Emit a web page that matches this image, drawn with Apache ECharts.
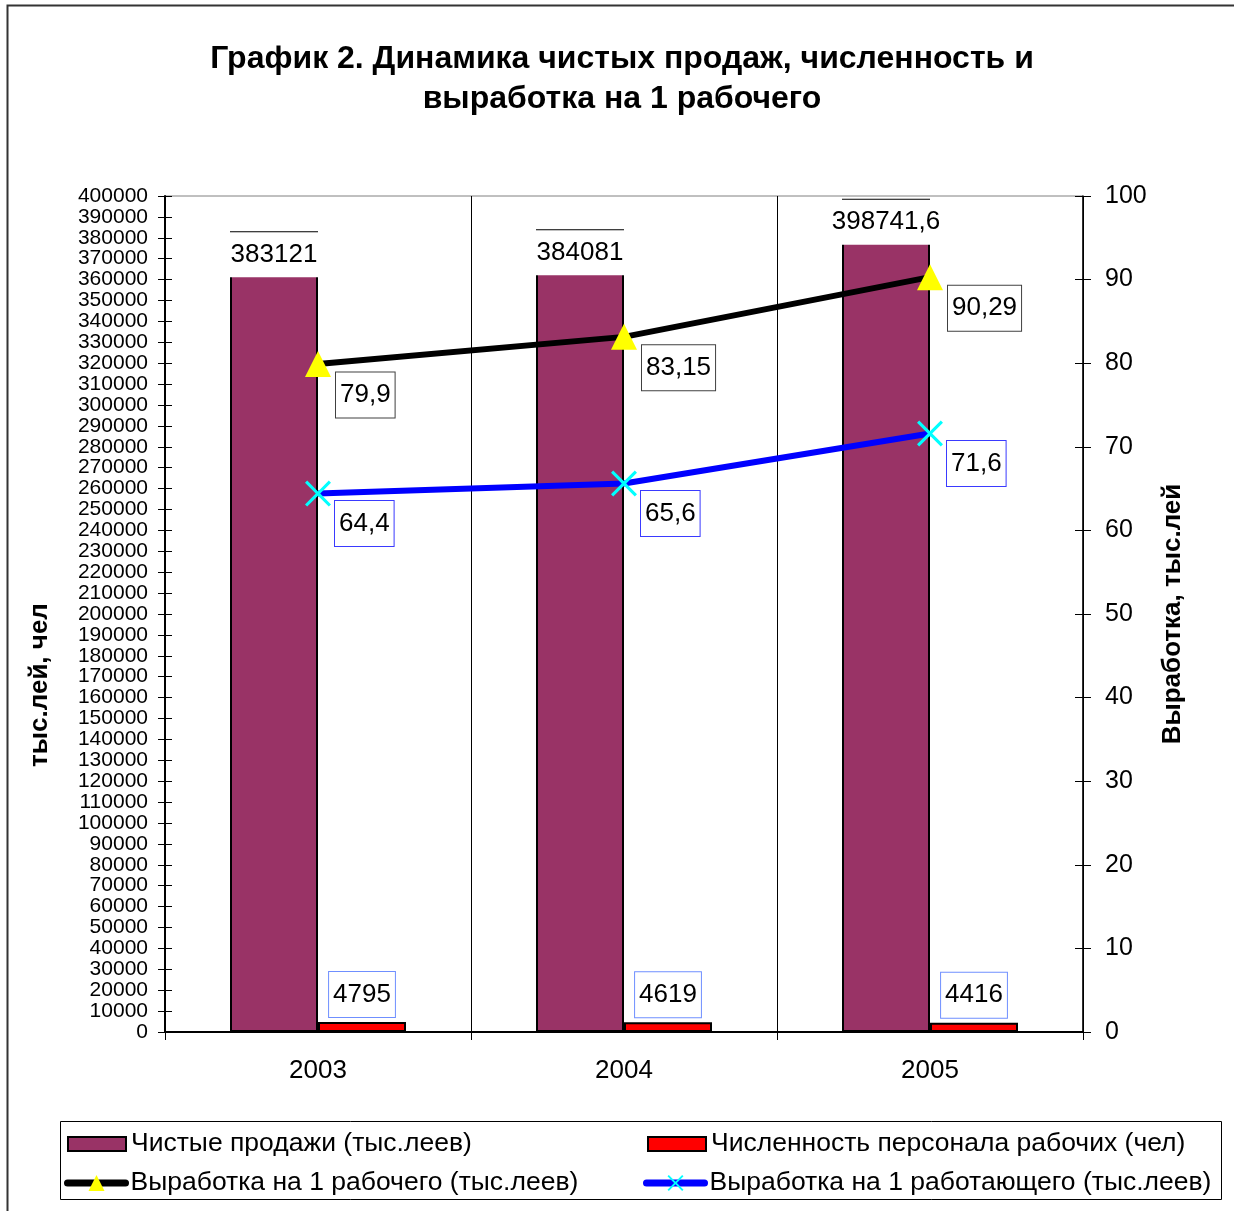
<!DOCTYPE html>
<html>
<head>
<meta charset="utf-8">
<script src="https://cdn.jsdelivr.net/npm/echarts@6/dist/echarts.min.js"></script>
<style>
html,body{margin:0;padding:0;background:#fff;}
#chart{width:1234px;height:1211px;}
</style>
</head>
<body>
<div id="chart"></div>
<script>
const years = ['2003', '2004', '2005'];
const netSales = [383121, 384081, 398741.6];
const staffWorkers = [4795, 4619, 4416];
const outputPerWorker = [79.9, 83.15, 90.29];
const outputPerEmployee = [64.4, 65.6, 71.6];

const seriesNames = [
  'Чистые продажи (тыс.леев)',
  'Численность персонала рабочих (чел)',
  'Выработка на 1 рабочего (тыс.леев)',
  'Выработка на 1 работающего (тыс.леев)'
];
const titleText = 'График 2. Динамика чистых продаж, численность и\nвыработка на 1 рабочего';
const leftAxisTitle = 'тыс.лей, чел';
const rightAxisTitle = 'Выработка, тыс.лей';

const FONT = "'Liberation Sans', Arial, sans-serif";
const fmt = v => String(v).replace('.', ',');
const xShape = 'path://M0,8.5L8.5,0L50,41.5L91.5,0L100,8.5L58.5,50L100,91.5L91.5,100L50,58.5L8.5,100L0,91.5L41.5,50Z';

const chart = echarts.init(document.getElementById('chart'), null, {renderer: 'canvas'});

const boxLabel = (border) => ({
  show: true,
  formatter: p => fmt(p.value),
  color: '#000',
  fontFamily: FONT,
  fontSize: 26,
  lineHeight: 29,
  backgroundColor: '#fff',
  borderColor: border,
  borderWidth: 1,
  padding: [8, 4, 8, 4]
});

const legendText = {fontFamily: FONT, fontSize: 26.5, color: '#000', lineHeight: 30};
const mkLegend = (name, left, top, h, icon) => ({
  data: [icon ? {name: name, icon: icon} : name],
  orient: 'horizontal', left: left, top: top, padding: 0,
  itemWidth: 58, itemHeight: h, itemGap: 0,
  lineStyle: {width: 7, cap: 'round'},
  textStyle: legendText
});

chart.setOption({
  animation: false,
  backgroundColor: '#fff',
  textStyle: {fontFamily: FONT},
  title: {
    text: titleText,
    left: 622,
    textAlign: 'center',
    top: 39,
    padding: 0,
    textStyle: {fontFamily: FONT, fontSize: 32, fontWeight: 'bold', color: '#000', lineHeight: 40}
  },
  grid: {
    left: 165, right: 151, top: 196, bottom: 179,
    show: true, borderColor: '#808080', borderWidth: 1, backgroundColor: 'transparent'
  },
  legend: [
    mkLegend(seriesNames[0], 67, 1129, 14, 'rect'),
    mkLegend(seriesNames[1], 647, 1129, 14, 'rect'),
    mkLegend(seriesNames[2], 64, 1168, 20),
    mkLegend(seriesNames[3], 643, 1168, 20)
  ],
  xAxis: {
    type: 'category',
    data: years,
    axisLine: {lineStyle: {color: '#000', width: 2}},
    axisTick: {show: true, length: 8, lineStyle: {color: '#000', width: 1}},
    axisLabel: {fontFamily: FONT, fontSize: 26, color: '#000', margin: 26},
    splitLine: {show: true, lineStyle: {color: '#000', width: 1}}
  },
  yAxis: [
    {
      type: 'value', position: 'left', min: 0, max: 400000, interval: 10000,
      axisLine: {show: true, lineStyle: {color: '#000', width: 2}},
      axisTick: {show: true, length: 7, lineStyle: {color: '#000', width: 1}},
      axisLabel: {fontFamily: FONT, fontSize: 21, color: '#000', margin: 17, formatter: v => String(v)},
      splitLine: {show: false}
    },
    {
      type: 'value', position: 'right', min: 0, max: 100, interval: 10,
      axisLine: {show: true, lineStyle: {color: '#000', width: 1.5}},
      axisTick: {show: true, length: 8, lineStyle: {color: '#000', width: 1}},
      axisLabel: {fontFamily: FONT, fontSize: 25, color: '#000', margin: 22, formatter: v => String(v)},
      splitLine: {show: false}
    },
    {
      type: 'value', position: 'left', min: 0, max: 400000, interval: 10000,
      axisLine: {show: false},
      axisTick: {show: true, inside: true, length: 7, lineStyle: {color: '#000', width: 1}},
      axisLabel: {show: false},
      splitLine: {show: false}
    },
    {
      type: 'value', position: 'right', min: 0, max: 100, interval: 10,
      axisLine: {show: false},
      axisTick: {show: true, inside: true, length: 8, lineStyle: {color: '#000', width: 1}},
      axisLabel: {show: false},
      splitLine: {show: false}
    }
  ],
  series: [
    {
      name: seriesNames[0],
      type: 'bar',
      yAxisIndex: 0,
      data: netSales,
      barWidth: 88,
      barGap: '0%',
      itemStyle: {color: '#993366', borderColor: '#000', borderWidth: 2},
      label: {
        show: true,
        position: 'insideTop',
        distance: 1,
        formatter: p => fmt(p.value),
        color: '#000',
        fontFamily: FONT,
        fontSize: 26,
        lineHeight: 29,
        width: 88,
        align: 'center',
        backgroundColor: '#fff',
        padding: [8, 2, 8, 2]
      },
      z: 2
    },
    {
      name: seriesNames[1],
      type: 'bar',
      yAxisIndex: 0,
      data: staffWorkers,
      barWidth: 88,
      barGap: '0%',
      itemStyle: {color: '#FF0000', borderColor: '#000', borderWidth: 2},
      label: Object.assign(boxLabel('#6f8fff'), {position: 'top', distance: 5}),
      z: 2
    },
    {
      name: seriesNames[2],
      type: 'line',
      yAxisIndex: 1,
      data: outputPerWorker,
      symbol: 'triangle',
      symbolSize: [26, 26],
      lineStyle: {color: '#000', width: 6},
      itemStyle: {color: '#FFFF00', borderWidth: 0},
      label: Object.assign(boxLabel('#404040'), {position: 'right', distance: 5, offset: [0, 31]}),
      z: 4
    },
    {
      name: seriesNames[3],
      type: 'line',
      yAxisIndex: 1,
      data: outputPerEmployee,
      symbol: xShape,
      symbolSize: [26, 26],
      lineStyle: {color: '#0000FF', width: 6},
      itemStyle: {color: '#00FFFF', borderWidth: 0},
      label: Object.assign(boxLabel('#3a3aff'), {position: 'right', distance: 4, offset: [0, 30]}),
      z: 4
    }
  ],
  graphic: [
    {
      type: 'rect', silent: true,
      shape: {x: 7.5, y: 5.5, width: 1260, height: 1240},
      style: {fill: 'none', stroke: '#333', lineWidth: 2}
    },
    {
      type: 'rect', silent: true,
      shape: {x: 60.5, y: 1121.5, width: 1161, height: 78},
      style: {fill: 'none', stroke: '#000', lineWidth: 1}
    },
    {
      type: 'text', silent: true,
      x: 40, y: 685, rotation: Math.PI / 2,
      style: {text: leftAxisTitle, font: 'bold 26px ' + FONT, fill: '#000', align: 'center', verticalAlign: 'middle'}
    },
    {
      type: 'text', silent: true,
      x: 1173, y: 614, rotation: Math.PI / 2,
      style: {text: rightAxisTitle, font: 'bold 26px ' + FONT, fill: '#000', align: 'center', verticalAlign: 'middle'}
    }
  ]
});
</script>
</body>
</html>
